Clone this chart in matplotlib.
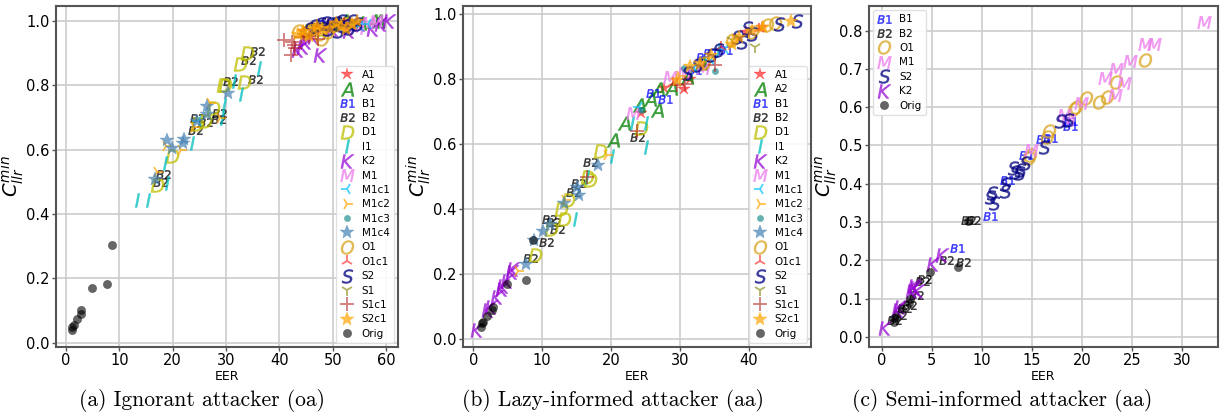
import matplotlib
matplotlib.use("Agg")
import matplotlib.pyplot as plt
from matplotlib.ticker import MultipleLocator

# ---------------- data ----------------
orig_eer = [1.18, 1.24, 1.45, 2.0, 2.75, 2.8, 4.82, 7.63, 8.63]
orig_c = [0.038, 0.049, 0.053, 0.072, 0.09, 0.10, 0.169, 0.182, 0.304]

# panel (a) ignorant attacker
a_A1_eer = [44.5, 47.0, 49.0, 50.5, 53.0]
a_A1_c = [0.97, 0.975, 0.99, 0.995, 1.0]
a_A2_eer = [52.0, 55.0, 57.5, 58.5]
a_A2_c = [1.0, 0.995, 1.0, 1.0]
a_B1_eer = [48.5, 50.5]
a_B1_c = [0.99, 0.995]
a_B2_eer = [17.7, 18.2, 24.2, 24.5, 26.0, 28.6, 28.4, 30.8, 34.2, 35.8, 35.4]
a_B2_c = [0.50, 0.525, 0.66, 0.70, 0.685, 0.715, 0.695, 0.815, 0.878, 0.906, 0.82]
a_D1_eer = [17.0, 19.8, 24.5, 26.0, 27.6, 29.4, 29.8, 32.6, 33.3, 34.0, 45.5, 48.0]
a_D1_c = [0.49, 0.58, 0.68, 0.69, 0.73, 0.80, 0.80, 0.865, 0.81, 0.90, 0.97, 0.975]
a_I1_eer = [13.4, 15.3, 18.6, 18.9, 23.6, 29.2, 29.7, 31.4, 32.8, 36.1]
a_I1_c = [0.443, 0.443, 0.557, 0.495, 0.62, 0.70, 0.74, 0.813, 0.772, 0.855]
a_K2_eer = [43.5, 44.5, 45.0, 47.5, 50.0, 53.0, 57.5, 59.0, 60.5, 46.5, 55.0]
a_K2_c = [0.91, 0.92, 0.935, 0.895, 0.975, 0.97, 0.975, 0.99, 1.0, 0.95, 0.99]
a_M1_eer = [52.0, 54.5, 56.5, 58.0]
a_M1_c = [0.99, 0.98, 0.995, 1.0]
a_M1c1_eer = [55.0, 56.5, 24.8]
a_M1c1_c = [0.985, 0.99, 0.69]
a_M1c2_eer = [17.0, 18.8, 21.5, 24.0, 26.9, 28.9]
a_M1c2_c = [0.53, 0.61, 0.60, 0.67, 0.745, 0.70]
a_M1c3_eer = [51.5, 53.5]
a_M1c3_c = [1.0, 0.995]
a_M1c4_eer = [16.7, 18.9, 19.8, 22.1, 22.0, 24.5, 26.4, 26.5, 30.4]
a_M1c4_c = [0.51, 0.63, 0.605, 0.632, 0.62, 0.69, 0.735, 0.71, 0.775]
a_O1_eer = [43.5, 45.0, 46.0, 47.5, 48.0, 50.0, 51.0, 49.0, 52.5]
a_O1_c = [0.97, 0.965, 0.975, 0.96, 0.945, 0.985, 0.99, 0.965, 0.99]
a_O1c1_eer = [47.0, 52.0]
a_O1c1_c = [0.985, 0.995]
a_S2_eer = [45.5, 46.5, 47.5, 48.5, 49.5, 50.5, 51.5, 52.5, 53.5, 54.5, 49.0, 51.0, 53.0]
a_S2_c = [0.975, 0.985, 0.99, 0.995, 0.99, 0.995, 1.0, 0.985, 1.0, 0.99, 0.975, 0.97, 0.98]
a_S1_eer = [50.5, 54.0]
a_S1_c = [0.985, 0.995]
a_S1c1_eer = [40.8, 42.3, 43.0, 42.2, 44.0, 45.5, 47.3, 42.8, 44.6]
a_S1c1_c = [0.94, 0.935, 0.915, 0.895, 0.95, 0.955, 0.945, 0.925, 0.96]
a_S2c1_eer = [43.5, 44.5, 45.5, 46.5, 47.0, 48.0, 49.5, 50.5, 51.5, 52.5, 53.5, 54.5]
a_S2c1_c = [0.96, 0.97, 0.955, 0.975, 0.985, 0.975, 0.98, 0.995, 0.985, 0.975, 0.99, 1.0]

# panel (b) lazy-informed attacker
b_A1_eer = [24.4, 27.6, 30.5, 31.5, 33.5, 39.5, 41.9]
b_A1_c = [0.695, 0.775, 0.77, 0.80, 0.84, 0.945, 0.96]
b_A2_eer = [20.3, 21.9, 24.0, 25.6, 26.6, 26.8, 28.7, 31.0, 33.0]
b_A2_c = [0.614, 0.665, 0.72, 0.74, 0.705, 0.77, 0.775, 0.808, 0.85]
b_B1_eer = [26.1, 27.8, 32.0, 33.4, 34.4, 36.5]
b_B1_c = [0.757, 0.74, 0.83, 0.87, 0.88, 0.89]
b_B2_eer = [8.2, 10.6, 11.5, 12.2, 14.5, 15.2, 16.9, 23.7, 11.0]
b_B2_c = [0.25, 0.30, 0.36, 0.338, 0.453, 0.48, 0.545, 0.623, 0.37]
b_D1_eer = [8.95, 11.2, 12.7, 13.1, 13.8, 16.9, 18.4, 24.3, 16.5]
b_D1_c = [0.26, 0.34, 0.40, 0.37, 0.429, 0.49, 0.578, 0.65, 0.50]
b_I1_eer = [14.8, 16.5, 20.1, 23.0, 25.1, 25.1, 35.5]
b_I1_c = [0.37, 0.50, 0.565, 0.665, 0.665, 0.593, 0.89]
b_K2_eer = [0.49, 2.18, 2.6, 3.4, 4.12, 4.36, 4.84, 5.56, 5.8]
b_K2_c = [0.028, 0.09, 0.10, 0.13, 0.155, 0.165, 0.18, 0.206, 0.215]
b_M1_eer = [23.1, 28.5, 33.4, 30.5]
b_M1_c = [0.695, 0.808, 0.835, 0.82]
b_M1c1_eer = [24.0, 32.0, 34.5, 36.5]
b_M1c1_c = [0.715, 0.835, 0.86, 0.895]
b_M1c2_eer = [6.5, 13.3, 19.4, 30.0, 38.0]
b_M1c2_c = [0.21, 0.43, 0.566, 0.81, 0.92]
b_M1c3_eer = [24.4, 35.1, 30.5]
b_M1c3_c = [0.705, 0.827, 0.835]
b_M1c4_eer = [7.65, 8.86, 10.1, 11.1, 13.2, 15.3, 15.1, 18.1]
b_M1c4_c = [0.232, 0.304, 0.333, 0.356, 0.418, 0.443, 0.47, 0.536]
b_O1_eer = [33.5, 37.5, 40.5, 42.6, 43.8]
b_O1_c = [0.85, 0.92, 0.945, 0.967, 0.975]
b_O1c1_eer = [41.5, 36.0, 29.0]
b_O1c1_c = [0.955, 0.90, 0.79]
b_S2_eer = [31.0, 32.5, 34.5, 35.5, 38.2, 39.0, 39.7, 44.3, 46.9, 40.5]
b_S2_c = [0.82, 0.845, 0.875, 0.89, 0.93, 0.916, 0.957, 0.97, 0.98, 0.94]
b_S1_eer = [40.9, 37.5]
b_S1_c = [0.90, 0.92]
b_S1c1_eer = [23.7, 29.5, 30.7, 35.1, 16.5]
b_S1c1_c = [0.64, 0.783, 0.787, 0.845, 0.50]
b_S2c1_eer = [29.5, 31.4, 32.9, 34.5, 37.5, 38.5, 40.5, 42.0, 46.1]
b_S2c1_c = [0.798, 0.84, 0.85, 0.875, 0.91, 0.93, 0.95, 0.96, 0.98]

# panel (c) semi-informed attacker
c_B1_eer = [7.5, 10.8, 12.5, 14.4, 16.1, 16.8, 18.8, 18.8]
c_B1_c = [0.233, 0.315, 0.41, 0.475, 0.517, 0.52, 0.565, 0.55]
c_B2_eer = [1.2, 1.7, 2.2, 2.7, 3.4, 4.0, 4.2, 6.4, 8.1, 8.6, 9.1]
c_B2_c = [0.045, 0.057, 0.075, 0.084, 0.11, 0.146, 0.152, 0.20, 0.195, 0.305, 0.306]
c_O1_eer = [14.7, 14.8, 16.5, 16.7, 19.2, 19.4, 20.4, 21.7, 22.5, 23.4, 26.3]
c_O1_c = [0.466, 0.475, 0.523, 0.538, 0.595, 0.601, 0.625, 0.614, 0.627, 0.666, 0.724]
c_M1_eer = [14.9, 18.2, 18.6, 19.9, 22.3, 23.3, 23.4, 24.2, 24.8, 26.3, 27.2, 32.2]
c_M1_c = [0.488, 0.579, 0.566, 0.611, 0.677, 0.631, 0.70, 0.663, 0.721, 0.764, 0.764, 0.823]
c_S2_eer = [10.8, 11.0, 11.2, 12.3, 12.3, 13.1, 13.3, 13.7, 13.8, 14.3, 16.2, 17.8, 18.6]
c_S2_c = [0.365, 0.375, 0.349, 0.40, 0.382, 0.442, 0.43, 0.429, 0.436, 0.453, 0.497, 0.564, 0.567]
c_K2_eer = [0.33, 1.6, 1.8, 3.0, 3.2, 3.3, 3.6, 5.1, 6.0]
c_K2_c = [0.023, 0.07, 0.078, 0.12, 0.134, 0.128, 0.12, 0.19, 0.215]

captions = ["(a) Ignorant attacker (oa)", "(b) Lazy-informed attacker (aa)",
            "(c) Semi-informed attacker (aa)"]

# ---------------- styles ----------------
STY = {
    "A1": dict(marker="*", color="red", ms=9, alpha=0.6),
    "A2": dict(marker="$A$", color="green", ms=10, alpha=0.75),
    "B1": dict(marker="$\\mathit{B1}$", color="blue", ms=10, alpha=0.75),
    "B2": dict(marker="$\\mathit{B2}$", color="black", ms=10, alpha=0.75),
    "D1": dict(marker="$D$", color="y", ms=10, alpha=0.75),
    "I1": dict(marker="$I$", color="c", ms=10, alpha=0.75),
    "K2": dict(marker="$K$", color="darkviolet", ms=10, alpha=0.7),
    "M1": dict(marker="$M$", color="violet", ms=10, alpha=0.8),
    "M1c1": dict(marker="3", color="deepskyblue", ms=9, alpha=0.7),
    "M1c2": dict(marker="4", color="orange", ms=9, alpha=0.7),
    "M1c3": dict(marker="o", color="teal", ms=4.5, alpha=0.6),
    "M1c4": dict(marker="*", color="steelblue", ms=10, alpha=0.7),
    "O1": dict(marker="$O$", color="goldenrod", ms=10, alpha=0.75),
    "O1c1": dict(marker="2", color="red", ms=9, alpha=0.55),
    "S2": dict(marker="$S$", color="navy", ms=10, alpha=0.75),
    "S1": dict(marker="1", color="olive", ms=9, alpha=0.6),
    "S1c1": dict(marker="+", color="firebrick", ms=10, alpha=0.6),
    "S2c1": dict(marker="*", color="orange", ms=10, alpha=0.7),
    "Orig": dict(marker="o", color="black", ms=6, alpha=0.6),
}

order_ab = ["A1", "A2", "B1", "B2", "D1", "I1", "K2", "M1", "M1c1", "M1c2",
            "M1c3", "M1c4", "O1", "O1c1", "S2", "S1", "S1c1", "S2c1", "Orig"]
order_c = ["B1", "B2", "O1", "M1", "S2", "K2", "Orig"]

g = globals()


def series(prefix, name):
    if name == "Orig":
        return orig_eer, orig_c
    return g[f"{prefix}_{name}_eer"], g[f"{prefix}_{name}_c"]


fig = plt.figure(figsize=(12.25, 4.18), dpi=100)
W, H = 1225.0, 418.0
boxes = [(56, 398), (463, 811), (869, 1218)]
cap_x = [202, 613, 1002]
top_px, bot_px = 6, 347
lims = [((-1.85, 62.2), (-0.014, 1.047), 10, 0.2),
        ((-1.5, 49.0), (-0.024, 1.026), 10, 0.2),
        ((-1.27, 33.6), (-0.026, 0.864), 5, 0.1)]

for i, (prefix, order) in enumerate([("a", order_ab), ("b", order_ab), ("c", order_c)]):
    l, r = boxes[i]
    ax = fig.add_axes([l / W, 1 - bot_px / H, (r - l) / W, (bot_px - top_px) / H])
    for name in order:
        x, y = series(prefix, name)
        st = STY[name]
        ax.plot(x, y, ls="none", label=name, mec=st["color"], mfc=st["color"],
                marker=st["marker"], ms=st["ms"], alpha=st["alpha"],
                mew=1.3 if st["marker"] in ("1", "2", "3", "4", "+") else 0.3)
    (xl, yl, xs, ys) = lims[i]
    ax.set_xlim(*xl)
    ax.set_ylim(*yl)
    ax.xaxis.set_major_locator(MultipleLocator(xs))
    ax.yaxis.set_major_locator(MultipleLocator(ys))
    ax.grid(True, color="#cccccc", lw=1.2)
    ax.set_axisbelow(True)
    for sp in ax.spines.values():
        sp.set_color("#555555")
        sp.set_linewidth(1.5)
    ax.tick_params(labelsize=10.5, direction="out", length=3, width=1, pad=1.5,
                   color="#555555")
    ax.set_xlabel("EER", fontsize=9, labelpad=1)
    ax.set_ylabel("$C_{llr}^{min}$", fontsize=14, labelpad=0)
    leg_kw = dict(fontsize=7.5, labelspacing=0.42, handlelength=1.3, handletextpad=0.8,
                  borderaxespad=0.4, framealpha=0.9, edgecolor="#dddddd")
    if i < 2:
        ax.legend(loc="lower right", **leg_kw)
    else:
        ax.legend(loc="upper left", **leg_kw)
    fig.text(cap_x[i] / W, 1 - 401 / H, captions[i], ha="center", va="center",
             fontsize=15.5, family="cmr10")

fig.savefig("out.png", dpi=100)
